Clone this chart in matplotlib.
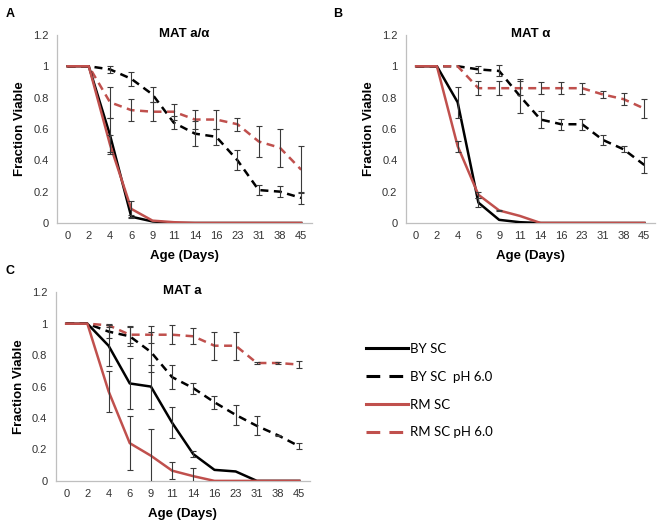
import matplotlib
matplotlib.use('Agg')
import matplotlib.pyplot as plt
from matplotlib.lines import Line2D
import numpy as np

days = ['0', '2', '4', '6', '9', '11', '14', '16', '23', '31', '38', '45']

# panel A - MAT a/alpha
a_by = [1, 1, 0.56, 0.04, 0.01, 0, 0, 0, 0, 0, 0, 0]
a_by_err = [0, 0, 0.11, 0.01, 0, 0, 0, 0, 0, 0, 0, 0]
a_rm = [1, 1, 0.50, 0.09, 0.015, 0.005, 0, 0, 0, 0, 0, 0]
a_rm_err = [0, 0, 0.06, 0.05, 0, 0, 0, 0, 0, 0, 0, 0]
a_by_ph = [1, 1, 0.98, 0.92, 0.82, 0.64, 0.57, 0.55, 0.40, 0.21, 0.20, 0.16]
a_by_ph_err = [0, 0, 0.02, 0.045, 0.05, 0.04, 0.08, 0.05, 0.065, 0.03, 0.035, 0.04]
a_rm_ph = [1, 1, 0.77, 0.72, 0.71, 0.71, 0.66, 0.66, 0.63, 0.52, 0.48, 0.34]
a_rm_ph_err = [0, 0, 0.10, 0.07, 0.06, 0.05, 0.06, 0.06, 0.04, 0.10, 0.12, 0.15]

# panel B - MAT alpha
b_by = [1, 1, 0.77, 0.13, 0.02, 0.005, 0, 0, 0, 0, 0, 0]
b_by_err = [0, 0, 0.10, 0.03, 0, 0, 0, 0, 0, 0, 0, 0]
b_rm = [1, 1, 0.49, 0.18, 0.08, 0.045, 0, 0, 0, 0, 0, 0]
b_rm_err = [0, 0, 0.035, 0.02, 0.005, 0, 0, 0, 0, 0, 0, 0]
b_by_ph = [1, 1, 1.0, 0.98, 0.97, 0.81, 0.66, 0.63, 0.63, 0.53, 0.47, 0.37]
b_by_ph_err = [0, 0, 0, 0.02, 0.035, 0.11, 0.055, 0.035, 0.035, 0.03, 0.02, 0.05]
b_rm_ph = [1, 1, 1, 0.86, 0.86, 0.86, 0.86, 0.86, 0.86, 0.82, 0.79, 0.73]
b_rm_ph_err = [0, 0, 0, 0.045, 0.045, 0.045, 0.04, 0.04, 0.035, 0.025, 0.04, 0.06]

# panel C - MAT a
c_by = [1, 1, 0.86, 0.62, 0.60, 0.37, 0.17, 0.07, 0.06, 0, 0, 0]
c_by_err = [0, 0, 0.13, 0.16, 0.14, 0.10, 0.02, 0, 0, 0, 0, 0]
c_rm = [1, 1, 0.57, 0.24, 0.16, 0.065, 0.03, 0, 0, 0, 0, 0]
c_rm_err = [0, 0, 0.13, 0.17, 0.17, 0.055, 0.05, 0, 0, 0, 0, 0]
c_by_ph = [1, 1, 0.95, 0.92, 0.82, 0.66, 0.59, 0.50, 0.42, 0.35, 0.29, 0.22]
c_by_ph_err = [0, 0, 0.04, 0.06, 0.13, 0.075, 0.035, 0.04, 0.065, 0.06, 0.005, 0.02]
c_rm_ph = [1, 1, 0.99, 0.93, 0.93, 0.93, 0.92, 0.86, 0.86, 0.75, 0.75, 0.74]
c_rm_ph_err = [0, 0, 0.01, 0.055, 0.055, 0.06, 0.05, 0.09, 0.09, 0.008, 0.005, 0.02]

labels = ['BY SC', 'BY SC  pH 6.0', 'RM SC', 'RM SC pH 6.0']
RED = '#c0504d'
ERR = '#3a3a3a'
DASH = (3.2, 2.2)

plt.rcParams['font.family'] = ['Liberation Sans', 'DejaVu Sans']


def draw_panel(ax, title, by, by_err, by_ph, by_ph_err, rm, rm_err, rm_ph, rm_ph_err):
    x = np.arange(len(days))
    series = [
        (by_ph, by_ph_err, 'black', True),
        (rm_ph, rm_ph_err, RED, True),
        (by, by_err, 'black', False),
        (rm, rm_err, RED, False),
    ]
    for vals, errs, col, dashed in series:
        vals = np.array(vals, dtype=float)
        errs = np.array(errs, dtype=float)
        line, = ax.plot(x, vals, color=col, lw=1.8, zorder=3)
        if dashed:
            line.set_dashes(DASH)
        m = errs > 0
        ax.errorbar(x[m], vals[m], yerr=errs[m], fmt='none', ecolor=ERR,
                    elinewidth=0.8, capsize=2, capthick=0.8, zorder=4)

    ax.set_xlim(-0.5, len(days) - 0.5)
    ax.set_ylim(0, 1.2)
    ax.set_xticks(x)
    ax.set_xticklabels(days)
    ax.set_yticks([0, 0.2, 0.4, 0.6, 0.8, 1.0, 1.2])
    ax.set_yticklabels(['0', '0.2', '0.4', '0.6', '0.8', '1', '1.2'])
    ax.tick_params(length=0, labelsize=8, colors='#333333', pad=6)
    for s in ['top', 'right']:
        ax.spines[s].set_visible(False)
    for s in ['left', 'bottom']:
        ax.spines[s].set_color('#bfbfbf')
        ax.spines[s].set_linewidth(0.9)
    ax.set_title(title, fontsize=9.5, fontweight='bold', y=0.99, pad=0)
    ax.set_ylabel('Fraction Viable', fontsize=9.5, fontweight='bold', labelpad=5)
    ax.set_xlabel('Age (Days)', fontsize=9.5, fontweight='bold', labelpad=6)


fig = plt.figure(figsize=(6.62, 5.21), dpi=100)
ax_a = fig.add_axes([0.086, 0.572, 0.385, 0.361])
ax_b = fig.add_axes([0.613, 0.572, 0.376, 0.361])
ax_c = fig.add_axes([0.084, 0.077, 0.384, 0.362])

draw_panel(ax_a, 'MAT a/α', a_by, a_by_err, a_by_ph, a_by_ph_err,
           a_rm, a_rm_err, a_rm_ph, a_rm_ph_err)
draw_panel(ax_b, 'MAT α', b_by, b_by_err, b_by_ph, b_by_ph_err,
           b_rm, b_rm_err, b_rm_ph, b_rm_ph_err)
draw_panel(ax_c, 'MAT a', c_by, c_by_err, c_by_ph, c_by_ph_err,
           c_rm, c_rm_err, c_rm_ph, c_rm_ph_err)

fig.text(0.008, 0.985, 'A', fontsize=9, fontweight='bold', va='top')
fig.text(0.503, 0.985, 'B', fontsize=9, fontweight='bold', va='top')
fig.text(0.008, 0.492, 'C', fontsize=9, fontweight='bold', va='top')

# legend handles with the longer dash look of the original legend
hs = [
    Line2D([], [], color='black', lw=2.2),
    Line2D([], [], color='black', lw=2.2, dashes=(4.5, 3.0)),
    Line2D([], [], color=RED, lw=2.2),
    Line2D([], [], color=RED, lw=2.2, dashes=(4.5, 3.0)),
]
fig.legend(hs, labels, loc='upper left', bbox_to_anchor=(0.545, 0.352),
           frameon=False, handlelength=3.2, handletextpad=0.1,
           labelspacing=1.2, borderaxespad=0,
           prop={'family': ['Lato', 'DejaVu Sans'], 'size': 9.5})

plt.savefig('out.png', dpi=100)
